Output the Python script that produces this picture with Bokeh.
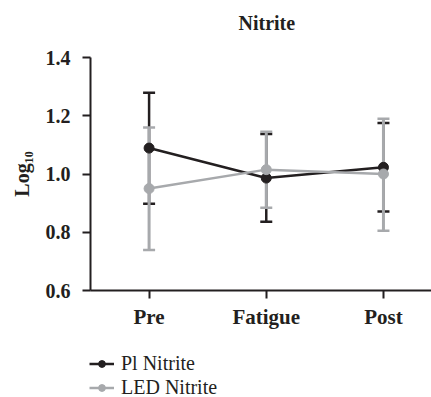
from bokeh.plotting import figure
from bokeh.layouts import column, row
from bokeh.models import ColumnDataSource, Whisker, Range1d, Legend, LegendItem, FixedTicker, Spacer
from bokeh.embed import file_html
from bokeh.resources import INLINE

categories = ["Pre", "Fatigue", "Post"]
pl_mean = [1.089, 0.986, 1.023]
pl_upper = [1.279, 1.137, 1.175]
pl_lower = [0.898, 0.836, 0.871]
led_mean = [0.950, 1.015, 1.000]
led_upper = [1.160, 1.145, 1.190]
led_lower = [0.739, 0.884, 0.805]
series_names = ["Pl Nitrite", "LED Nitrite"]
chart_title = "Nitrite"

BLACK = "#231f20"
GRAY = "#a7a9ac"
FONT = "'Liberation Serif'"

xs = [1, 2, 3]

# title strip (own small figure so the title can sit higher above the plot)
tf = figure(width=431, height=40, output_backend="svg", toolbar_location=None,
            x_axis_type=None, y_axis_type=None,
            x_range=Range1d(0, 1), y_range=Range1d(0, 1),
            min_border_left=90, min_border_right=0, min_border_top=37, min_border_bottom=0)
tf.grid.visible = False
tf.outline_line_color = None
tf.title.text = chart_title
tf.title.text_font = FONT
tf.title.text_font_size = "20px"
tf.title.text_font_style = "bold"
tf.title.text_color = BLACK
tf.title.align = "left"
tf.title.offset = 148
tf.title.standoff = 8

p = figure(width=431, height=312, output_backend="svg", toolbar_location=None,
           x_range=Range1d(0.5, 3.41), y_range=Range1d(0.6, 1.4),
           min_border_left=90, min_border_right=0, min_border_top=17, min_border_bottom=62)

p.grid.visible = False
p.outline_line_color = None

for ax in (p.xaxis[0], p.yaxis[0]):
    ax.axis_line_color = BLACK
    ax.axis_line_width = 2
    ax.major_tick_line_color = BLACK
    ax.major_tick_line_width = 2
    ax.major_tick_out = 8
    ax.major_tick_in = 0
    ax.minor_tick_line_color = None
    ax.major_label_text_font = FONT
    ax.major_label_text_font_size = "20px"
    ax.major_label_text_font_style = "bold"
    ax.major_label_text_color = BLACK

p.xaxis.ticker = FixedTicker(ticks=xs)
p.xaxis.major_label_overrides = {x: c for x, c in zip(xs, categories)}
p.xaxis.major_label_standoff = 6
p.xaxis.major_label_text_font_size = "21px"
p.yaxis.ticker = FixedTicker(ticks=[0.6, 0.8, 1.0, 1.2, 1.4])
p.yaxis.major_label_overrides = {0.6: "0.6", 0.8: "0.8", 1.0: "1.0", 1.2: "1.2", 1.4: "1.4"}
p.yaxis.major_label_standoff = 12
p.yaxis.axis_label = "Log₁₀"
p.yaxis.axis_label_text_font = FONT
p.yaxis.axis_label_text_font_size = "20px"
p.yaxis.axis_label_text_font_style = "bold"
p.yaxis.axis_label_text_color = BLACK
p.yaxis.axis_label_standoff = 10

series = [(series_names[0], pl_mean, pl_upper, pl_lower, BLACK, 2.5),
          (series_names[1], led_mean, led_upper, led_lower, GRAY, 3)]
for name, mean, up, lo, col, lw in series:
    src = ColumnDataSource(dict(x=xs, y=mean, upper=up, lower=lo))
    w = Whisker(source=src, base="x", upper="upper", lower="lower",
                line_color=col, line_width=lw)
    for h in (w.upper_head, w.lower_head):
        h.size = 12
        h.line_color = col
        h.line_width = 2.5
    p.add_layout(w)
    p.line("x", "y", source=src, line_color=col, line_width=2.5)
    p.scatter("x", "y", source=src, size=10, fill_color=col, line_color=col)

# legend panel (its own small figure, data kept out of view)
lg = figure(width=342, height=45, output_backend="svg", toolbar_location=None,
            x_axis_type=None, y_axis_type=None,
            x_range=Range1d(10, 11), y_range=Range1d(10, 11),
            min_border=0)
lg.grid.visible = False
lg.outline_line_color = None
items = []
for name, mean, up, lo, col, lw in series:
    src = ColumnDataSource(dict(x=xs, y=mean))
    ln = lg.line("x", "y", source=src, line_color=col, line_width=2.5)
    sc = lg.scatter("x", "y", source=src, size=7, fill_color=col, line_color=col)
    items.append(LegendItem(label=name, renderers=[ln, sc]))
legend = Legend(items=items, location="top_left", orientation="vertical",
                label_text_font=FONT, label_text_font_size="20px", label_text_color=BLACK,
                glyph_width=25, glyph_height=17, label_height=17, spacing=1,
                label_standoff=7, padding=0, margin=0,
                border_line_color=None, background_fill_alpha=0)
lg.add_layout(legend, "center")

layout = column(tf, p, row(Spacer(width=89, height=45), lg, spacing=0), spacing=0)
open("out.html", "w").write(file_html(layout, INLINE))
